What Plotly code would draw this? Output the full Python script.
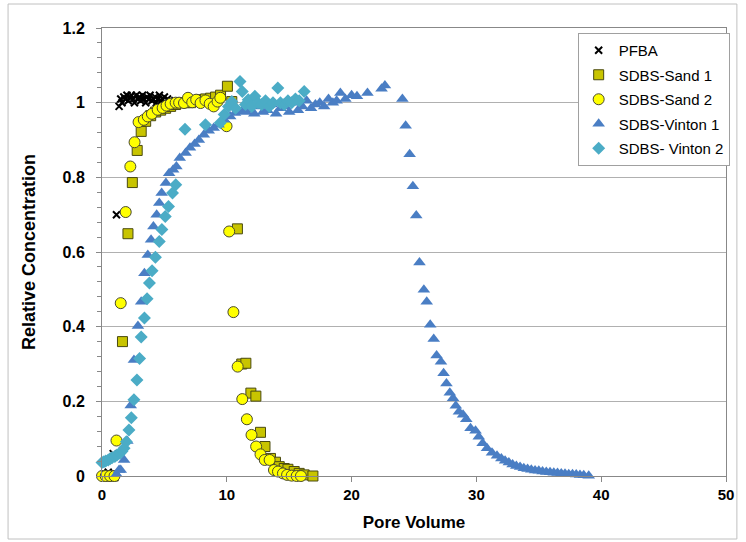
import plotly.graph_objects as go

# ---------------- data ----------------
pfba_x = [0.2, 0.5, 0.9, 1.16, 1.37, 1.5, 1.6, 1.75, 1.85, 2.0, 2.1, 2.25, 2.35, 2.5, 2.6, 2.75,
          2.85, 3.0, 3.1, 3.25, 3.35, 3.5, 3.6, 3.75, 3.85, 4.0, 4.1, 4.25, 4.35, 4.5, 4.6, 4.75,
          4.85, 5.0, 5.1, 5.25, 5.4]
pfba_y = [0, 0.01, 0.06, 0.70, 0.99, 1.01, 1.0, 1.015, 1.01, 1.02, 1.005, 1.015, 1.02, 1.01, 1.0,
          1.02, 1.01, 1.015, 1.005, 1.02, 1.01, 1.0, 1.015, 1.01, 1.02, 1.005, 1.01, 1.015, 1.0,
          1.01, 1.02, 1.005, 1.01, 1.015, 1.0, 1.01, 1.005]

sand1_x = [0.3, 0.6, 0.9, 1.64, 2.08, 2.43, 2.82, 3.14, 3.5, 3.9, 4.3, 4.7, 5.1, 5.5, 5.9, 6.3,
           6.7, 7.1, 7.5, 7.9, 8.3, 8.7, 9.1, 9.5, 10.05, 10.4, 10.85, 11.2, 11.53, 11.93, 12.33,
           12.7, 13.06, 13.5, 13.9, 14.2, 14.6, 14.9, 15.4, 15.8, 16.2, 16.9]
sand1_y = [0, 0, 0, 0.36, 0.649, 0.786, 0.872, 0.923, 0.95, 0.965, 0.975, 0.98, 0.985, 0.99,
           0.995, 1.0, 1.0, 1.0, 1.005, 1.008, 1.01, 1.012, 1.015, 1.02, 1.044, 1.003, 0.662,
           0.30, 0.302, 0.222, 0.214, 0.117, 0.079, 0.047, 0.037, 0.025, 0.02, 0.018, 0.012,
           0.007, 0.003, 0.0]

sand2_x = [0.0, 0.3, 0.65, 1.0, 1.16, 1.5, 1.9, 2.27, 2.61, 2.93, 3.35, 3.67, 4.0, 4.46, 4.86,
           5.17, 5.5, 5.9, 6.18, 6.57, 6.89, 7.23, 7.55, 7.9, 8.29, 8.63, 8.95, 9.26, 9.48, 9.98,
           10.19, 10.53, 10.87, 11.24, 11.61, 11.98, 12.35, 12.7, 13.04, 13.43, 13.78, 14.1,
           14.5, 14.83, 15.2, 15.6, 15.94]
sand2_y = [0, 0, 0, 0, 0.095, 0.463, 0.707, 0.829, 0.894, 0.948, 0.954, 0.963, 0.97, 0.981,
           0.986, 0.992, 0.997, 1.0, 1.0, 0.999, 1.013, 1.001, 1.008, 0.999, 1.006, 0.997, 0.99,
           1.003, 1.013, 0.937, 0.655, 0.439, 0.293, 0.206, 0.152, 0.11, 0.079, 0.058, 0.043,
           0.043, 0.016, 0.012, 0.007, 0.003, 0.001, 0, 0]

vint1_x = [1.16, 1.37, 1.5, 1.77, 2.03, 2.3, 2.56, 2.88, 3.14, 3.4, 3.67, 3.93, 4.12, 4.38, 4.59,
           4.78, 5.12, 5.38, 5.7, 5.96, 6.23, 6.7, 7.05, 7.42, 7.76, 8.16, 8.55, 8.95, 9.34, 9.79,
           10.27, 10.66, 11.19, 11.55, 11.85, 12.2, 12.55, 12.9, 13.25, 13.6, 13.95, 14.3, 14.65,
           15.0, 15.35, 15.7, 16.05, 16.4, 16.75, 17.1, 17.45, 17.8, 18.15, 18.5, 18.8, 19.1,
           19.5, 20.0, 20.43, 21.27, 22.4, 22.67, 24.07, 24.33, 24.65, 24.91, 25.18, 25.44, 25.79,
           26.02, 26.3, 26.58, 26.81, 27.16, 27.37, 27.6, 27.87, 28.13, 28.35, 28.6, 28.93, 29.19,
           29.53, 29.93, 30.19, 30.5, 30.85, 31.25, 31.65, 32.0, 32.3, 32.6, 32.9, 33.2, 33.5,
           33.8, 34.1, 34.4, 34.7, 35.0, 35.3, 35.6, 35.9, 36.2, 36.5, 36.8, 37.1, 37.4, 37.7,
           38.0, 38.3, 38.6, 39.0]
vint1_y = [0.005, 0.016, 0.016, 0.043, 0.094, 0.189, 0.311, 0.402, 0.467, 0.543, 0.592, 0.633,
           0.668, 0.70, 0.731, 0.758, 0.785, 0.811, 0.82, 0.829, 0.852, 0.865, 0.879, 0.889, 0.90,
           0.914, 0.925, 0.932, 0.941, 0.954, 0.963, 0.972, 0.977, 0.975, 0.981,
           0.97, 0.99, 0.975, 0.98, 0.995, 0.97, 0.985, 0.99, 0.975, 1.0, 0.98, 0.99, 1.005, 0.985,
           0.995, 1.0, 0.99, 1.01, 1.0, 1.005,
           1.026, 1.01, 1.02, 1.017, 1.026, 1.037, 1.046, 1.01, 0.938, 0.862, 0.776, 0.698, 0.572,
           0.499, 0.467, 0.405, 0.367, 0.323, 0.306, 0.275, 0.248, 0.223, 0.208, 0.188, 0.172,
           0.164, 0.152, 0.128, 0.121, 0.105, 0.088, 0.074, 0.062, 0.054,
           0.047, 0.041, 0.036, 0.031, 0.027, 0.024, 0.021, 0.019, 0.017, 0.015, 0.014, 0.012,
           0.011, 0.010, 0.009, 0.008, 0.007, 0.006, 0.005, 0.005, 0.004, 0.003, 0.002, 0.001]

vint2_x = [0.0, 0.15, 0.3, 0.5, 0.65, 0.8, 1.03, 1.2, 1.43, 1.6, 1.77, 1.95, 2.16, 2.35, 2.56,
           2.8, 3.01, 3.14, 3.4, 3.61, 3.8, 4.01, 4.28, 4.59, 4.8, 5.07, 5.33, 5.65, 5.91, 6.65,
           8.29, 9.48, 9.79, 10.13, 10.4, 10.7, 11.06, 11.24, 11.5, 11.72, 12.0, 12.25, 12.5,
           12.8, 13.1, 13.4, 13.7, 14.09, 14.3, 14.6, 14.9, 15.2, 15.5, 15.8, 16.2]
vint2_y = [0.036, 0.038, 0.04, 0.043, 0.046, 0.049, 0.052, 0.056, 0.061, 0.066, 0.074, 0.092,
           0.123, 0.156, 0.204, 0.257, 0.315, 0.372, 0.423, 0.475, 0.517, 0.55, 0.586, 0.628,
           0.66, 0.695, 0.722, 0.758, 0.78, 0.929, 0.941, 0.946, 0.968, 0.99, 1.003, 0.985, 1.057,
           1.03, 0.995, 1.008, 0.99, 1.017, 1.0, 0.995, 1.005, 0.99, 1.0, 1.039, 1.0, 0.995,
           1.005, 1.0, 1.01, 1.005, 1.03]

x_ticks = [0, 10, 20, 30, 40, 50]
y_ticks = [0, 0.2, 0.4, 0.6, 0.8, 1.0, 1.2]
y_tick_labels = ["0", "0.2", "0.4", "0.6", "0.8", "1", "1.2"]

FONT = "Liberation Sans, Arial, sans-serif"

# ---------------- figure ----------------
fig = go.Figure()

fig.add_trace(go.Scatter(x=pfba_x, y=pfba_y, mode="markers", name="PFBA", legendgroup="a",
                         marker=dict(symbol="x-thin", size=7, color="black",
                                     line=dict(width=2, color="black")),
                         cliponaxis=False))
fig.add_trace(go.Scatter(x=sand1_x, y=sand1_y, mode="markers", name="SDBS-Sand 1", legendgroup="b",
                         marker=dict(symbol="square", size=10, color="#c8c400",
                                     line=dict(width=1, color="#4a4a10")),
                         cliponaxis=False))
fig.add_trace(go.Scatter(x=sand2_x, y=sand2_y, mode="markers", name="SDBS-Sand 2", legendgroup="c",
                         marker=dict(symbol="circle", size=11, color="#ffff00",
                                     line=dict(width=1, color="#4a4a30")),
                         cliponaxis=False))
fig.add_trace(go.Scatter(x=vint1_x, y=vint1_y, mode="markers", name="SDBS-Vinton 1", legendgroup="d",
                         marker=dict(symbol="triangle-up", size=11, color="#4a7ec4",
                                     line=dict(width=0)),
                         cliponaxis=False))
fig.add_trace(go.Scatter(x=vint2_x, y=vint2_y, mode="markers", name="SDBS- Vinton 2", legendgroup="e",
                         marker=dict(symbol="diamond", size=10, color="#4bacc6",
                                     line=dict(width=0)),
                         cliponaxis=False))

L, R, T, B = 102, 13, 28, 66
W, H = 746, 542
pw, ph = W - L - R, H - T - B

fig.update_layout(
    width=W, height=H,
    margin=dict(l=L, r=R, t=T, b=B),
    paper_bgcolor="white", plot_bgcolor="white",
    font=dict(family=FONT, color="black"),
    showlegend=True,
    legend=dict(x=(583 - L) / pw, y=(H - B - 33) / ph, xanchor="left", yanchor="top",
                bordercolor="#a0a0a0", borderwidth=1, bgcolor="white",
                font=dict(size=15, family=FONT),
                itemwidth=30, tracegroupgap=2),
    xaxis=dict(range=[0, 50], tickvals=x_ticks, ticktext=["<b>%d</b>" % v for v in x_ticks],
               ticks="outside", ticklen=5,
               tickcolor="#888888", showgrid=False, zeroline=False,
               showline=True, linecolor="#888888", linewidth=1, mirror=True,
               tickfont=dict(size=15, family=FONT),
               title=dict(text="<b>Pore Volume</b>", font=dict(size=17, family=FONT), standoff=14)),
    yaxis=dict(range=[0, 1.2], tickvals=y_ticks, ticktext=["<b>%s</b>" % t for t in y_tick_labels],
               ticks="outside", ticklen=5, tickcolor="#888888", ticklabelstandoff=8,
               showgrid=True, gridcolor="#b0b0b0", gridwidth=1, zeroline=False,
               showline=True, linecolor="#888888", linewidth=1, mirror=True,
               minor=dict(dtick=0.04, ticks="outside", ticklen=4, tickcolor="#888888",
                          showgrid=False),
               tickfont=dict(size=16, family=FONT),
               title=dict(text="<b>Relative Concentration</b>", font=dict(size=18, family=FONT),
                          standoff=22)),
)

# outer chart border
fig.add_shape(type="rect", xref="paper", yref="paper",
              x0=(7 - L) / pw, x1=(744 - L) / pw,
              y0=(H - B - 539) / ph, y1=(H - B - 4) / ph,
              line=dict(color="#c0c0c0", width=1), layer="below")

fig.write_html("out.html")
